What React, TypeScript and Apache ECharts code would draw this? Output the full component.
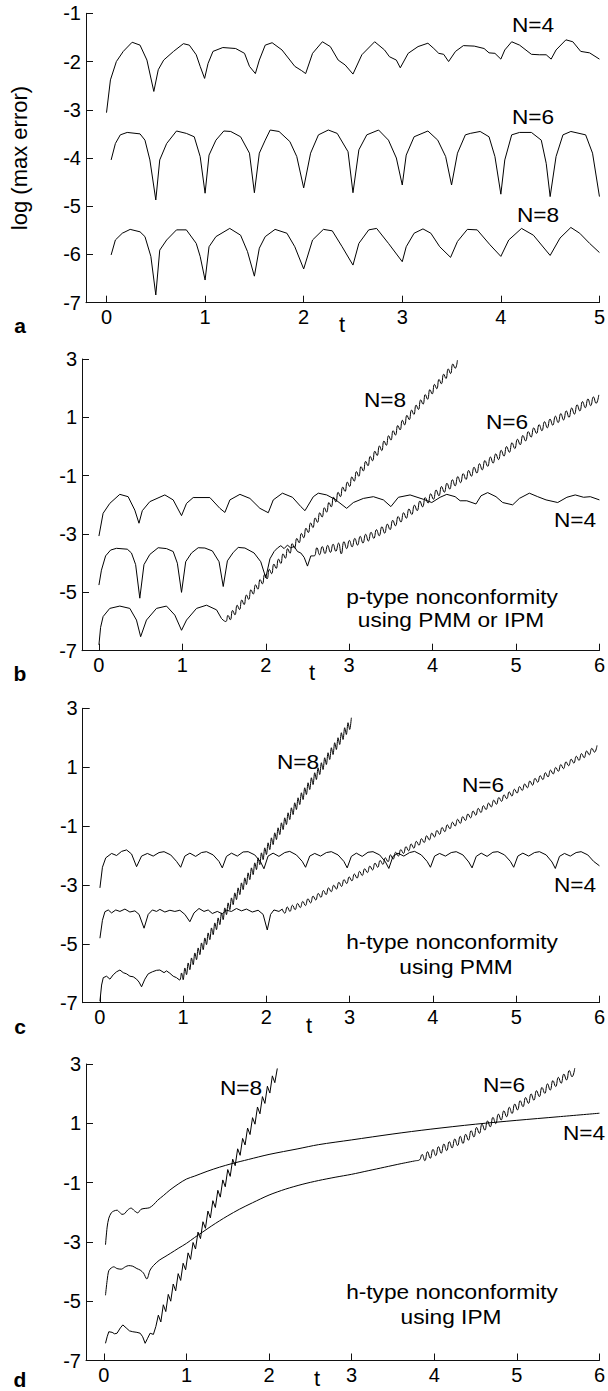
import React, { useEffect, useRef } from "react";
import * as echarts from "echarts";

type Pt = [number, number];

const FONT = '"Liberation Sans", Arial, Helvetica, sans-serif';

// ---- panel a : t in [0,5] ----
const aN4: Pt[] = [
  [0.0, -3.06], [0.04, -2.38], [0.1, -2.0], [0.17, -1.79], [0.26, -1.6], [0.34, -1.66], [0.41, -1.97], [0.48, -2.62],
  [0.525, -2.17], [0.58, -1.97], [0.68, -1.79], [0.78, -1.63], [0.84, -1.66], [0.91, -1.86], [0.95, -2.1], [0.995, -2.35],
  [1.03, -2.04], [1.08, -1.79], [1.18, -1.71], [1.31, -1.73], [1.4, -1.83], [1.45, -2.1], [1.51, -2.25], [1.55, -1.97],
  [1.61, -1.66], [1.68, -1.61], [1.78, -1.76], [1.91, -2.1], [1.98, -2.19], [2.02, -2.25], [2.09, -1.83], [2.19, -1.59],
  [2.27, -1.69], [2.35, -1.97], [2.42, -2.07], [2.5, -2.26], [2.59, -1.86], [2.72, -1.59], [2.82, -1.76], [2.87, -1.9],
  [2.94, -1.97], [2.98, -2.13], [3.06, -1.83], [3.16, -1.69], [3.26, -1.62], [3.32, -1.73], [3.37, -1.83], [3.42, -1.85],
  [3.47, -2.0], [3.54, -1.79], [3.62, -1.67], [3.73, -1.68], [3.83, -1.73], [3.88, -1.82], [3.94, -1.83], [4.0, -1.95],
  [4.04, -1.76], [4.11, -1.59], [4.19, -1.66], [4.31, -1.85], [4.39, -1.86], [4.46, -1.86], [4.51, -1.95], [4.56, -1.76],
  [4.66, -1.55], [4.73, -1.59], [4.81, -1.79], [4.9, -1.82], [5.0, -1.95],
];
const aN6: Pt[] = [
  [0.047, -4.04], [0.09, -3.7], [0.14, -3.52], [0.21, -3.47], [0.34, -3.5], [0.39, -3.63], [0.44, -4.04], [0.5, -4.87],
  [0.54, -4.04], [0.61, -3.7], [0.71, -3.44], [0.81, -3.49], [0.89, -3.56], [0.95, -3.97], [1.0, -4.73], [1.04, -3.94],
  [1.11, -3.63], [1.19, -3.44], [1.26, -3.45], [1.36, -3.56], [1.45, -3.9], [1.5, -4.72], [1.55, -3.9], [1.61, -3.63],
  [1.66, -3.42], [1.75, -3.45], [1.86, -3.66], [1.93, -3.97], [2.0, -4.62], [2.07, -3.9], [2.15, -3.52], [2.25, -3.42],
  [2.34, -3.49], [2.45, -3.87], [2.5, -4.72], [2.56, -3.83], [2.64, -3.52], [2.76, -3.42], [2.86, -3.63], [2.94, -4.0],
  [3.0, -4.56], [3.04, -3.94], [3.12, -3.56], [3.26, -3.44], [3.36, -3.63], [3.44, -3.97], [3.5, -4.56], [3.56, -3.9],
  [3.64, -3.52], [3.69, -3.49], [3.79, -3.45], [3.88, -3.56], [3.94, -3.97], [4.0, -4.75], [4.04, -4.04], [4.11, -3.52],
  [4.19, -3.47], [4.31, -3.47], [4.41, -3.63], [4.46, -4.11], [4.5, -4.8], [4.56, -3.97], [4.63, -3.52], [4.71, -3.45],
  [4.86, -3.52], [4.93, -3.9], [5.0, -4.8],
];
const aN8: Pt[] = [
  [0.047, -6.01], [0.09, -5.7], [0.16, -5.56], [0.24, -5.48], [0.34, -5.53], [0.39, -5.63], [0.45, -6.04], [0.5, -6.84],
  [0.54, -5.91], [0.61, -5.7], [0.71, -5.49], [0.81, -5.49], [0.91, -5.77], [0.95, -6.04], [1.0, -6.53], [1.04, -5.84],
  [1.11, -5.63], [1.25, -5.46], [1.36, -5.6], [1.43, -5.94], [1.5, -6.45], [1.55, -5.87], [1.61, -5.63], [1.71, -5.48],
  [1.83, -5.56], [1.91, -5.84], [2.0, -6.3], [2.09, -5.7], [2.2, -5.48], [2.29, -5.51], [2.39, -5.84], [2.5, -6.22],
  [2.56, -5.77], [2.66, -5.49], [2.74, -5.46], [2.86, -5.77], [3.0, -6.15], [3.04, -5.84], [3.12, -5.56], [3.21, -5.47],
  [3.29, -5.56], [3.38, -5.84], [3.49, -6.06], [3.56, -5.73], [3.66, -5.48], [3.76, -5.49], [3.89, -5.8], [4.0, -6.04],
  [4.08, -5.7], [4.21, -5.46], [4.33, -5.6], [4.5, -6.02], [4.6, -5.66], [4.71, -5.44], [4.8, -5.56], [4.9, -5.77],
  [5.0, -5.96],
];

// ---- panel b : p-type nonconformity, PMM or IPM ----
const bN4: Pt[] = [
  [0.0, -3.07], [0.05, -2.29], [0.13, -1.95], [0.25, -1.64], [0.35, -1.72], [0.43, -2.18], [0.48, -2.63], [0.52, -2.2],
  [0.61, -1.89], [0.79, -1.66], [0.89, -1.83], [0.99, -2.37], [1.05, -1.95], [1.13, -1.75], [1.33, -1.75], [1.45, -2.12],
  [1.51, -2.26], [1.57, -1.83], [1.69, -1.64], [1.81, -1.78], [1.93, -2.12], [2.03, -2.27], [2.09, -1.83], [2.2, -1.6],
  [2.32, -1.74], [2.42, -2.06], [2.47, -2.2], [2.57, -1.72], [2.63, -1.6], [2.73, -1.66], [2.83, -1.81], [2.97, -2.12],
  [3.05, -1.92], [3.17, -1.78], [3.29, -1.72], [3.41, -1.83], [3.5, -2.06], [3.59, -1.74], [3.73, -1.66], [3.89, -1.81],
  [3.99, -1.92], [4.09, -1.74], [4.17, -1.64], [4.27, -1.72], [4.33, -1.86], [4.41, -1.86], [4.52, -1.97], [4.58, -1.69],
  [4.66, -1.58], [4.76, -1.72], [4.84, -1.92], [4.96, -2.0], [5.04, -1.78], [5.16, -1.6], [5.26, -1.72], [5.36, -1.83],
  [5.5, -1.92], [5.61, -1.74], [5.71, -1.66], [5.81, -1.74], [5.89, -1.72], [6.0, -1.83],
];
const bN6: Pt[] = [
  [0.0, -4.75], [0.03, -4.24], [0.08, -3.75], [0.14, -3.55], [0.21, -3.49], [0.34, -3.52], [0.39, -3.65], [0.44, -4.05],
  [0.49, -5.2], [0.54, -4.05], [0.61, -3.7], [0.71, -3.47], [0.81, -3.5], [0.89, -3.6], [0.94, -4.0], [0.99, -5.0],
  [1.04, -3.95], [1.11, -3.65], [1.19, -3.47], [1.27, -3.48], [1.36, -3.58], [1.44, -3.95], [1.49, -4.8], [1.54, -3.92],
  [1.61, -3.63], [1.67, -3.46], [1.75, -3.48], [1.86, -3.65], [1.94, -3.95], [2.0, -4.5], [2.05, -3.85], [2.1, -3.6],
  [2.14, -3.48], [2.18, -3.4], [2.22, -3.5], [2.26, -3.38], [2.3, -3.48], [2.34, -3.42], [2.38, -3.6], [2.42, -3.65],
  [2.46, -3.8], [2.5, -4.1], [2.54, -3.75],
];
const bN6WiggleStart = 2.58;
const bN6WiggleStep = 0.0325;
const bN6Wiggle = [
  -3.75, -3.47, -3.71, -3.43, -3.67, -3.39, -3.63, -3.35, -3.59, -3.31,
  -3.68, -3.26, -3.5, -3.22, -3.44, -3.15, -3.38, -3.08, -3.31, -3.01,
  -3.24, -2.94, -3.15, -2.85, -3.06, -2.75, -2.97, -2.66, -2.85, -2.53,
  -2.72, -2.4, -2.59, -2.27, -2.46, -2.14, -2.33, -2.01, -2.2, -1.87,
  -2.07, -1.75, -1.94, -1.62, -1.81, -1.49, -1.69, -1.37, -1.57, -1.26,
  -1.46, -1.14, -1.35, -1.03, -1.24, -0.93, -1.13, -0.82, -1.02, -0.71,
  -0.91, -0.59, -0.8, -0.48, -0.68, -0.36, -0.57, -0.25, -0.45, -0.13,
  -0.33, 0.0, -0.2, 0.13, -0.07, 0.25, 0.06, 0.38, 0.19, 0.51,
  0.32, 0.64, 0.45, 0.75, 0.54, 0.85, 0.64, 0.94, 0.73, 1.04,
  0.82, 1.13, 0.91, 1.22, 1.0, 1.32, 1.11, 1.43, 1.22, 1.54,
  1.33, 1.63, 1.4, 1.7, 1.48, 1.77,
];
const bN8: Pt[] = [
  [0.0, -6.8], [0.02, -6.2], [0.05, -5.83], [0.13, -5.55], [0.25, -5.47], [0.37, -5.55], [0.45, -5.95], [0.5, -6.52],
  [0.57, -5.95], [0.69, -5.55], [0.81, -5.47], [0.91, -5.78], [0.99, -6.3], [1.05, -5.95], [1.17, -5.55], [1.29, -5.44],
  [1.41, -5.6], [1.47, -5.9],
];
const bN8WiggleStart = 1.52;
const bN8WiggleStep = 0.0275;
const bN8Wiggle = [
  -6.0, -5.79, -5.94, -5.62, -5.77, -5.44, -5.59, -5.26, -5.42, -5.09,
  -5.24, -4.91, -5.06, -4.74, -4.89, -4.56, -4.71, -4.38, -4.54, -4.21,
  -4.36, -4.03, -4.18, -3.86, -4.01, -3.68, -3.83, -3.5, -3.66, -3.33,
  -3.48, -3.15, -3.3, -2.98, -3.13, -2.8, -2.95, -2.62, -2.78, -2.45,
  -2.6, -2.27, -2.42, -2.1, -2.25, -1.92, -2.07, -1.74, -1.9, -1.57,
  -1.72, -1.39, -1.54, -1.22, -1.37, -1.04, -1.19, -0.86, -1.02, -0.69,
  -0.84, -0.51, -0.66, -0.34, -0.49, -0.16, -0.31, 0.02, -0.14, 0.19,
  0.04, 0.37, 0.22, 0.54, 0.39, 0.72, 0.57, 0.9, 0.74, 1.07,
  0.92, 1.25, 1.1, 1.42, 1.27, 1.6, 1.45, 1.78, 1.62, 1.95,
  1.8, 2.13, 1.98, 2.3, 2.15, 2.48, 2.33, 2.66, 2.5, 2.83,
  2.68, 2.96,
];

// ---- panel c : h-type nonconformity, PMM ----
const cN4: Pt[] = [
  [0.0, -3.1], [0.03, -2.4], [0.07, -2.08], [0.14, -1.93], [0.2, -2.0], [0.26, -1.86], [0.32, -1.81], [0.38, -1.95], [0.44, -2.38],
  [0.5, -2.02], [0.57, -1.93], [0.64, -2.02], [0.71, -1.9], [0.77, -1.87], [0.85, -1.98], [0.92, -2.2], [0.97, -2.4],
  [1.02, -2.02], [1.08, -1.92], [1.15, -2.03], [1.22, -1.9], [1.28, -1.87], [1.36, -1.98], [1.43, -2.2], [1.47, -2.42],
  [1.52, -2.03], [1.58, -1.92], [1.65, -2.02], [1.72, -1.88], [1.78, -1.87], [1.86, -1.98], [1.93, -2.22], [1.97, -2.45],
  [2.02, -2.02], [2.08, -1.92], [2.15, -2.03], [2.22, -1.9], [2.28, -1.86], [2.36, -1.98], [2.43, -2.2], [2.47, -2.4],
  [2.52, -2.02], [2.58, -1.93], [2.65, -2.02], [2.72, -1.9], [2.78, -1.87], [2.86, -1.98], [2.93, -2.2], [2.97, -2.42],
  [3.02, -2.03], [3.08, -1.92], [3.15, -2.03], [3.22, -1.89], [3.28, -1.87], [3.36, -1.98], [3.43, -2.22], [3.47, -2.44],
  [3.52, -2.03], [3.58, -1.92], [3.65, -2.02], [3.72, -1.9], [3.78, -1.86], [3.86, -1.98], [3.93, -2.2], [3.97, -2.4],
  [4.02, -2.02], [4.08, -1.93], [4.15, -2.02], [4.22, -1.9], [4.28, -1.87], [4.36, -1.98], [4.43, -2.22], [4.47, -2.42],
  [4.52, -2.03], [4.58, -1.92], [4.65, -2.03], [4.72, -1.89], [4.78, -1.87], [4.86, -1.98], [4.93, -2.2], [4.97, -2.4],
  [5.02, -2.02], [5.08, -1.92], [5.15, -2.02], [5.22, -1.9], [5.28, -1.87], [5.36, -1.98], [5.43, -2.22], [5.47, -2.44],
  [5.52, -2.03], [5.58, -1.93], [5.65, -2.02], [5.72, -1.9], [5.78, -1.87], [5.86, -1.98], [5.93, -2.2], [6.0, -2.35],
];
const cN6: Pt[] = [
  [0.0, -4.81], [0.03, -4.2], [0.06, -3.91], [0.1, -3.85], [0.14, -3.95], [0.19, -3.85], [0.24, -3.9], [0.3, -3.82],
  [0.36, -3.92], [0.42, -3.88], [0.47, -4.0], [0.53, -4.47], [0.58, -4.0], [0.63, -3.85], [0.68, -3.9], [0.72, -3.83],
  [0.78, -3.92], [0.84, -3.86], [0.9, -3.9], [0.96, -3.86], [1.02, -4.0], [1.08, -4.25], [1.13, -3.95], [1.19, -3.8],
  [1.25, -3.9], [1.3, -3.85], [1.35, -3.97], [1.41, -3.9], [1.47, -3.98], [1.52, -3.86], [1.58, -3.9], [1.64, -3.8],
  [1.7, -3.88], [1.76, -3.82], [1.83, -3.92], [1.9, -3.86], [1.96, -4.0], [2.01, -4.53], [2.05, -4.0], [2.09, -3.85],
  [2.15, -3.9], [2.19, -3.82],
];
const cN6WiggleStart = 2.22;
const cN6WiggleStep = 0.031;
const cN6Wiggle = [
  -3.96, -3.75, -3.9, -3.69, -3.84, -3.63, -3.77, -3.56, -3.7, -3.47,
  -3.61, -3.38, -3.51, -3.29, -3.42, -3.19, -3.33, -3.1, -3.23, -3.01,
  -3.14, -2.91, -3.05, -2.82, -2.95, -2.73, -2.86, -2.63, -2.77, -2.54,
  -2.68, -2.45, -2.58, -2.36, -2.49, -2.26, -2.4, -2.17, -2.3, -2.08,
  -2.21, -1.98, -2.12, -1.89, -2.02, -1.8, -1.93, -1.7, -1.84, -1.61,
  -1.75, -1.52, -1.65, -1.43, -1.56, -1.33, -1.47, -1.24, -1.37, -1.15,
  -1.28, -1.05, -1.19, -0.96, -1.09, -0.87, -1.0, -0.77, -0.91, -0.68,
  -0.81, -0.59, -0.72, -0.49, -0.63, -0.4, -0.54, -0.31, -0.44, -0.22,
  -0.35, -0.12, -0.26, -0.03, -0.16, 0.06, -0.07, 0.16, 0.02, 0.25,
  0.12, 0.34, 0.21, 0.43, 0.3, 0.53, 0.39, 0.62, 0.49, 0.71,
  0.58, 0.81, 0.67, 0.9, 0.77, 0.99, 0.86, 1.09, 0.95, 1.18,
  1.05, 1.27, 1.14, 1.37, 1.23, 1.46, 1.32, 1.55, 1.42, 1.64,
  1.51, 1.74,
];
const cN8: Pt[] = [
  [0.0, -6.95], [0.02, -6.4], [0.04, -6.15], [0.08, -6.1], [0.12, -6.2], [0.16, -6.05], [0.2, -5.95], [0.24, -5.89],
  [0.28, -5.98], [0.32, -6.02], [0.36, -6.1], [0.4, -6.12], [0.44, -6.2], [0.47, -6.3], [0.5, -6.46], [0.54, -6.2],
  [0.58, -6.02], [0.63, -5.95], [0.68, -5.9], [0.72, -5.89], [0.77, -5.98], [0.8, -5.92], [0.84, -6.0], [0.88, -6.1],
  [0.92, -6.15],
];
const cN8WiggleStart = 0.96;
const cN8WiggleStep = 0.02;
const cN8Wiggle = [
  -6.23, -5.99, -6.22, -5.82, -6.05, -5.65, -5.88, -5.48, -5.71, -5.31,
  -5.54, -5.14, -5.37, -4.97, -5.2, -4.8, -5.03, -4.63, -4.86, -4.46,
  -4.69, -4.29, -4.52, -4.12, -4.35, -3.95, -4.18, -3.78, -4.01, -3.61,
  -3.84, -3.44, -3.67, -3.27, -3.5, -3.1, -3.33, -2.93, -3.16, -2.76,
  -2.99, -2.59, -2.82, -2.42, -2.65, -2.25, -2.48, -2.08, -2.31, -1.91,
  -2.14, -1.74, -1.97, -1.57, -1.8, -1.4, -1.63, -1.23, -1.46, -1.06,
  -1.29, -0.89, -1.12, -0.72, -0.95, -0.55, -0.78, -0.38, -0.61, -0.21,
  -0.44, -0.04, -0.27, 0.13, -0.1, 0.3, 0.07, 0.47, 0.24, 0.64,
  0.41, 0.81, 0.58, 0.98, 0.75, 1.15, 0.92, 1.32, 1.09, 1.49,
  1.26, 1.66, 1.43, 1.83, 1.6, 2.0, 1.77, 2.17, 1.94, 2.34,
  2.11, 2.51, 2.28, 2.68,
];

// ---- panel d : h-type nonconformity, IPM ----
const dN4: Pt[] = [
  [0.02, -3.1], [0.04, -2.5], [0.06, -2.2], [0.09, -2.02], [0.12, -1.96], [0.16, -1.93], [0.19, -2.0], [0.22, -2.07],
  [0.25, -2.05], [0.29, -1.92], [0.33, -1.86], [0.37, -1.95], [0.41, -2.02], [0.45, -1.9], [0.5, -1.87], [0.55, -1.85],
  [0.6, -1.75], [0.65, -1.6], [0.72, -1.44], [0.8, -1.25], [0.9, -1.05], [1.0, -0.88], [1.1, -0.78], [1.25, -0.62],
  [1.4, -0.48], [1.55, -0.36], [1.75, -0.22], [2.0, -0.05], [2.35, 0.14], [2.6, 0.28], [3.0, 0.44], [3.5, 0.64],
  [3.95, 0.8], [4.5, 0.97], [5.0, 1.1], [5.5, 1.22], [6.0, 1.34],
];
const dN6: Pt[] = [
  [0.02, -4.8], [0.04, -4.3], [0.06, -3.97], [0.09, -3.88], [0.12, -3.84], [0.16, -3.9], [0.21, -3.92], [0.26, -3.84],
  [0.3, -3.8], [0.35, -3.82], [0.4, -3.9], [0.44, -3.95], [0.48, -4.05], [0.52, -4.25], [0.56, -3.95], [0.6, -3.8],
  [0.67, -3.62], [0.74, -3.5], [0.81, -3.38], [0.9, -3.22], [1.0, -3.05], [1.1, -2.85], [1.2, -2.66], [1.3, -2.47],
  [1.4, -2.29], [1.5, -2.12], [1.64, -1.9], [1.8, -1.68], [2.0, -1.42], [2.2, -1.22], [2.4, -1.06], [2.6, -0.93],
  [2.8, -0.82], [3.0, -0.72], [3.2, -0.6], [3.4, -0.48], [3.6, -0.36], [3.78, -0.26],
];
const dN6WiggleStart = 3.82;
const dN6WiggleStep = 0.033;
const dN6Wiggle = [
  -0.24, -0.05, -0.26, 0.04, -0.18, 0.12, -0.09, 0.21, -0.01, 0.3,
  0.08, 0.38, 0.17, 0.47, 0.25, 0.56, 0.32, 0.63, 0.43, 0.75,
  0.54, 0.86, 0.66, 0.97, 0.77, 1.08, 0.88, 1.2, 0.99, 1.31,
  1.11, 1.42, 1.22, 1.54, 1.33, 1.65, 1.45, 1.76, 1.56, 1.87,
  1.67, 1.99, 1.78, 2.1, 1.9, 2.21, 2.01, 2.33, 2.12, 2.44,
  2.24, 2.55, 2.35, 2.66, 2.46, 2.78, 2.57, 2.86,
];
const dN8: Pt[] = [
  [0.02, -6.42], [0.04, -6.2], [0.06, -6.03], [0.1, -6.05], [0.13, -6.1], [0.16, -6.08], [0.2, -5.9], [0.23, -5.8],
  [0.27, -5.9], [0.31, -6.0], [0.35, -6.03], [0.4, -6.05], [0.44, -6.08], [0.47, -6.2], [0.5, -6.42], [0.53, -6.25],
  [0.56, -6.08], [0.6, -6.12],
];
const dN8WiggleStart = 0.63;
const dN8WiggleStep = 0.03;
const dN8Wiggle = [
  -5.85, -5.47, -5.7, -5.12, -5.35, -4.77, -5.0, -4.42, -4.65, -4.07,
  -4.3, -3.72, -3.94, -3.37, -3.59, -3.02, -3.24, -2.67, -2.89, -2.32,
  -2.54, -1.96, -2.19, -1.61, -1.84, -1.26, -1.49, -0.91, -1.14, -0.56,
  -0.79, -0.21, -0.43, 0.14, -0.08, 0.49, 0.27, 0.84, 0.62, 1.19,
  0.97, 1.55, 1.32, 1.9, 1.67, 2.25, 2.02, 2.6, 2.37, 2.85,
];

// axis ticks
const ticksA = [-7, -6, -5, -4, -3, -2, -1];
const ticksBCD = [-7, -5, -3, -1, 1, 3];
const tTicks5 = [0, 1, 2, 3, 4, 5];
const tTicks6 = [0, 1, 2, 3, 4, 5, 6];

// evenly sampled oscillating segment -> [t, value] pairs, joined to the last point before it
function sampled(prev: Pt[], t0: number, dt: number, ys: number[]): Pt[] {
  const pts = ys.map((y, i) => [Math.round((t0 + i * dt) * 10000) / 10000, y] as Pt);
  return [prev[prev.length - 1], ...pts];
}

const INK = "#111";

function axisX(idx: number, min: number, max: number, ticks: number[]) {
  return {
    type: "value",
    gridIndex: idx,
    min,
    max,
    axisLine: { show: true, onZero: false, lineStyle: { color: INK, width: 1 } },
    axisTick: { show: true, inside: true, length: 7, customValues: ticks, lineStyle: { color: INK, width: 1 } },
    axisLabel: { show: true, customValues: ticks, fontSize: 20, color: "#000", fontFamily: FONT, margin: 4 },
    splitLine: { show: false },
  };
}

function axisY(idx: number, min: number, max: number, ticks: number[], extra: any = {}) {
  return {
    type: "value",
    gridIndex: idx,
    min,
    max,
    axisLine: { show: true, onZero: false, lineStyle: { color: INK, width: 1 } },
    axisTick: { show: true, inside: true, length: 7, customValues: ticks, lineStyle: { color: INK, width: 1 } },
    axisLabel: { show: true, customValues: ticks, fontSize: 20, color: "#000", fontFamily: FONT, margin: 5 },
    splitLine: { show: false },
    ...extra,
  };
}

function curve(name: string, idx: number, data: Pt[], smooth: number | boolean = false) {
  return {
    name,
    type: "line",
    xAxisIndex: idx,
    yAxisIndex: idx,
    data,
    smooth,
    showSymbol: false,
    symbol: "none",
    lineStyle: { color: "#000", width: 1 },
    z: 3,
  };
}

function label(text: string, x: number, y: number, size = 21, weight: string = "normal", sx = 1.08) {
  return {
    type: "text",
    x,
    y,
    scaleX: sx,
    silent: true,
    style: {
      text,
      fill: "#000",
      font: `${weight} ${size}px ${FONT}`,
      textAlign: "center",
      textVerticalAlign: "middle",
      align: "center",
      verticalAlign: "middle",
    },
  };
}

export default function App() {
  const ref = useRef<HTMLDivElement>(null);

  useEffect(() => {
    if (!ref.current) return;
    const chart = echarts.init(ref.current, undefined, { renderer: "svg" });

    const option: any = {
      animation: false,
      backgroundColor: "#fff",
      grid: [
        { left: 82, top: 13.3, width: 518.7, height: 289.4 },
        { left: 82, top: 359, width: 518.7, height: 291.7 },
        { left: 82.7, top: 708.3, width: 519, height: 294.4 },
        { left: 86, top: 1064, width: 518, height: 296.5 },
      ],
      xAxis: [
        axisX(0, -0.208, 5, tTicks5),
        axisX(1, -0.203, 6, tTicks6),
        axisX(2, -0.207, 6, tTicks6),
        axisX(3, -0.216, 6, tTicks6),
      ],
      yAxis: [
        axisY(0, -7, -1, ticksA, {
          name: "log (max error)",
          nameLocation: "middle",
          nameGap: 56,
          nameRotate: 90,
          nameTextStyle: { fontSize: 22, color: "#000", fontFamily: FONT },
        }),
        axisY(1, -7, 3, ticksBCD),
        axisY(2, -7, 3, ticksBCD),
        axisY(3, -7, 3, ticksBCD),
      ],
      series: [
        curve("a N=4", 0, aN4),
        curve("a N=6", 0, aN6),
        curve("a N=8", 0, aN8),
        curve("b N=4", 1, bN4),
        curve("b N=6", 1, bN6),
        curve("b N=6 growth", 1, sampled(bN6, bN6WiggleStart, bN6WiggleStep, bN6Wiggle), 0.5),
        curve("b N=8", 1, bN8),
        curve("b N=8 growth", 1, sampled(bN8, bN8WiggleStart, bN8WiggleStep, bN8Wiggle), 0.5),
        curve("c N=4", 2, cN4),
        curve("c N=6", 2, cN6),
        curve("c N=6 growth", 2, sampled(cN6, cN6WiggleStart, cN6WiggleStep, cN6Wiggle), 0.5),
        curve("c N=8", 2, cN8),
        curve("c N=8 growth", 2, sampled(cN8, cN8WiggleStart, cN8WiggleStep, cN8Wiggle), 0.3),
        curve("d N=4", 3, dN4, 0.3),
        curve("d N=6", 3, dN6, 0.3),
        curve("d N=6 growth", 3, sampled(dN6, dN6WiggleStart, dN6WiggleStep, dN6Wiggle), 0.5),
        curve("d N=8", 3, dN8),
        curve("d N=8 growth", 3, sampled(dN8, dN8WiggleStart, dN8WiggleStep, dN8Wiggle)),
      ],
      graphic: [
        // panel a
        label("N=4", 533, 25),
        label("N=6", 533, 117),
        label("N=8", 538, 215),
        label("a", 20, 325, 21, "bold", 1),
        label("t", 342, 324, 22, "normal", 1),
        // panel b
        label("N=8", 385, 400),
        label("N=6", 507, 422),
        label("N=4", 575, 520),
        label("p-type nonconformity", 452, 597),
        label("using PMM or IPM", 451, 620),
        label("b", 20, 673, 21, "bold", 1),
        label("t", 312, 672, 22, "normal", 1),
        // panel c
        label("N=8", 298, 762),
        label("N=6", 483, 785),
        label("N=4", 575, 885),
        label("h-type nonconformity", 452, 942),
        label("using PMM", 456, 967),
        label("c", 20, 1026, 21, "bold", 1),
        label("t", 309, 1025, 22, "normal", 1),
        // panel d
        label("N=8", 241, 1088),
        label("N=6", 504, 1085),
        label("N=4", 584, 1133),
        label("h-type nonconformity", 452, 1292),
        label("using IPM", 451, 1317),
        label("d", 20, 1379, 21, "bold", 1),
        label("t", 317, 1378, 22, "normal", 1),
      ],
    };

    chart.setOption(option);
    return () => chart.dispose();
  }, []);

  return (
    <div
      ref={ref}
      style={{ position: "absolute", left: 0, top: 0, width: 608, height: 1391, background: "#fff" }}
    />
  );
}
